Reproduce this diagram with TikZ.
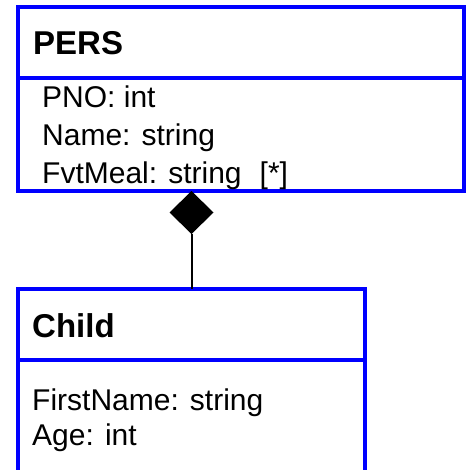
\documentclass[tikz,border=0pt]{standalone}
\usepackage{fontspec}
\setmainfont{Liberation Sans}
\usetikzlibrary{shapes.geometric}
\definecolor{umlblue}{RGB}{0,0,255}
\tikzset{
  classbox/.style={draw=umlblue, line width=4.5pt, rectangle, inner sep=0pt, outer sep=0pt},
  titletext/.style={anchor=base west, inner sep=0pt, font=\fontsize{33}{37}\selectfont\bfseries},
  attrtext/.style={anchor=base west, inner sep=0pt, font=\fontsize{30}{34}\selectfont},
  compo/.style={diamond, aspect=1, fill=black, draw=none, minimum width=44pt, minimum height=43pt, inner sep=0pt, outer sep=0pt},
  link/.style={draw=black, line width=2pt}
}
\begin{document}
\begin{tikzpicture}[x=1pt,y=-1pt]
\useasboundingbox (0,0) rectangle (466,470);
\clip (0,0) rectangle (466,470);
\fill[white] (0,0) rectangle (466,470);
% PERS class
\node[classbox, minimum width=446pt, minimum height=71pt, anchor=north west] (pershead) at (18,7) {};
\node[classbox, minimum width=446pt, minimum height=113pt, anchor=north west] (persbody) at (18,78) {};
\node[titletext] (perstitle) at (33,55) {PERS};
\node[attrtext] (pno) at (42,108) {PNO: int};
\node[attrtext] (pname) at (42,146) {Name: string};
\node[attrtext] (pmeal) at (42,183) {FvtMeal: string\hspace{0.6em}[*]};
% Child class
\node[classbox, minimum width=347pt, minimum height=71pt, anchor=north west] (childhead) at (18,289) {};
\node[classbox, minimum width=347pt, minimum height=130pt, anchor=north west] (childbody) at (18,360) {};
\node[titletext] (childtitle) at (32,337) {Child};
\node[attrtext] (cfirst) at (32,410) {FirstName: string};
\node[attrtext] (cage) at (32,445) {Age: int};
% composition
\node[compo, anchor=north] (dia) at (persbody.south -| childhead.north) {};
\draw[link] (dia.south) -- (childhead.north);
\end{tikzpicture}
\end{document}
